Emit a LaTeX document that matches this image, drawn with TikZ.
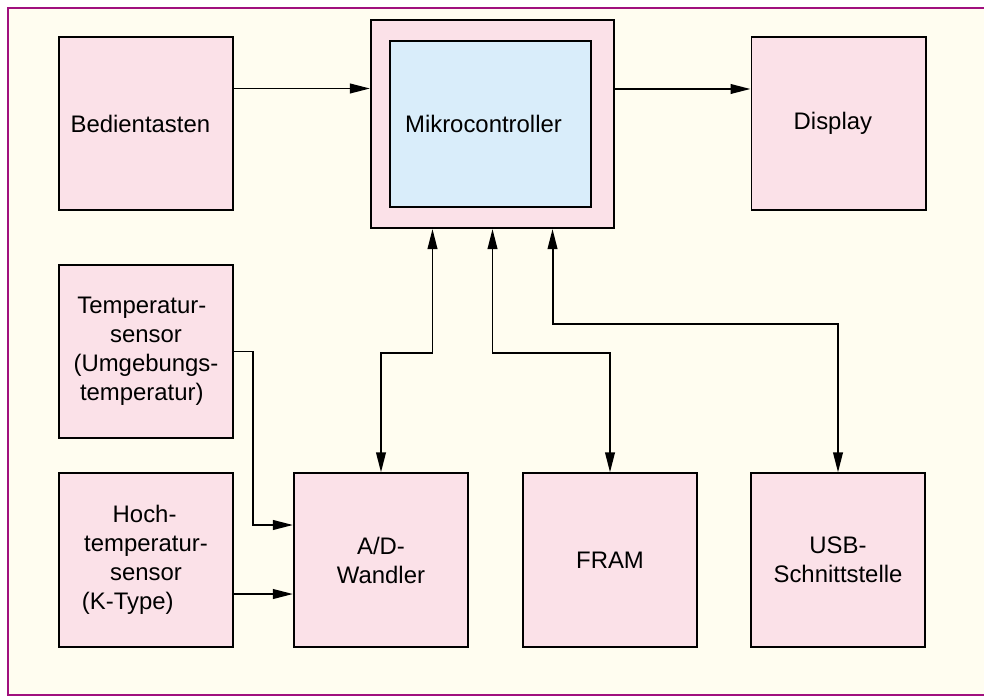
\documentclass[tikz,border=0pt]{standalone}
\usepackage{fontspec}
\setmainfont{Liberation Sans}
\usepackage{xcolor}
\usepackage{tikz}
\usetikzlibrary{positioning, calc, arrows.meta}

\definecolor{framepurple}{HTML}{A0107E}
\definecolor{paper}{HTML}{FFFDF0}
\definecolor{boxpink}{HTML}{FBE1E8}
\definecolor{mcblue}{HTML}{D9EDFA}

\tikzset{
  blk/.style={draw, line width=1.4pt, fill=boxpink, minimum width=4.35cm,
    minimum height=4.33cm, align=center, inner sep=0pt,
    font=\fontsize{17}{20.6}\selectfont},
  conn/.style={line width=1.4pt, -{Triangle[length=5mm, width=2.4mm]}},
  biconn/.style={line width=1.4pt, {Triangle[length=5mm, width=2.4mm]}-{Triangle[length=5mm, width=2.4mm]}}
}

\begin{document}
\begin{tikzpicture}[x=0.025cm, y=-0.025cm]
        % units are pixels, y counted downwards
        \useasboundingbox (0,0) rectangle (984,697);
        \fill[white] (0,0) rectangle (984,697);
        \draw[line width=2pt, draw=framepurple, fill=paper] (8,8) rectangle (1010,695);

        % Mikrocontroller
        \node[blk, minimum width=6.075cm, minimum height=5.2cm] (mc) at (492.5,124) {};
        \node[draw, line width=1.4pt, fill=mcblue, minimum width=5.025cm, minimum height=4.15cm,
          font=\fontsize{17}{20.6}\selectfont] (mcin) at (490.5,124) {Mikrocontroller\hspace*{10pt}};

        % top row
        \node[blk] (bed) at (146,123.5) {Bedientasten\hspace*{8pt}};
        \node[blk] (disp) at (838.5,123.5) {Display\hspace*{8pt}};

        % sensors
        \node[blk] (temp) at (146,351.5) {Temperatur-\hspace*{6pt}\\sensor\hspace*{6pt}\\(Umgebungs-\hspace*{6pt}\\temperatur)\hspace*{6pt}};
        \node[blk] (hoch) at (146,560) {Hoch-\hspace*{2pt}\\temperatur-\hspace*{6pt}\\sensor\hspace*{10pt}\\(K-Type)\hspace*{26pt}};

        % bottom row
        \node[blk] (ad) at (381,560) {A/D-\\Wandler};
        \node[blk] (fram) at (610,560) {FRAM};
        \node[blk] (usb) at (838,560) {USB-\\Schnittstelle};

        % keys and display
        \coordinate (bedout) at ([yshift=0.875cm]bed.east);
        \coordinate (mcout) at ([yshift=0.875cm]mc.east);
        \draw[conn] (bedout) -- (bedout -| mc.west);
        \draw[conn] (mcout) -- (mcout -| disp.west);

        % bus lines
        \draw[biconn] ([xshift=-1.5cm]mc.south) -- ++(0,124) -| (ad.north);
        \draw[biconn] (mc.south) -- ++(0,124) -| (fram.north);
        \draw[biconn] ([xshift=1.5cm]mc.south) -- ++(0,95) -| (usb.north);

        % sensor inputs
        \coordinate (adin1) at ([yshift=0.875cm]ad.west);
        \coordinate (hochout) at ([yshift=-0.85cm]hoch.east);
        \draw[conn] (temp.east) -- ++(19,0) |- (adin1);
        \draw[conn] (hochout) -- (hochout -| ad.west);
      \end{tikzpicture}
\end{document}
